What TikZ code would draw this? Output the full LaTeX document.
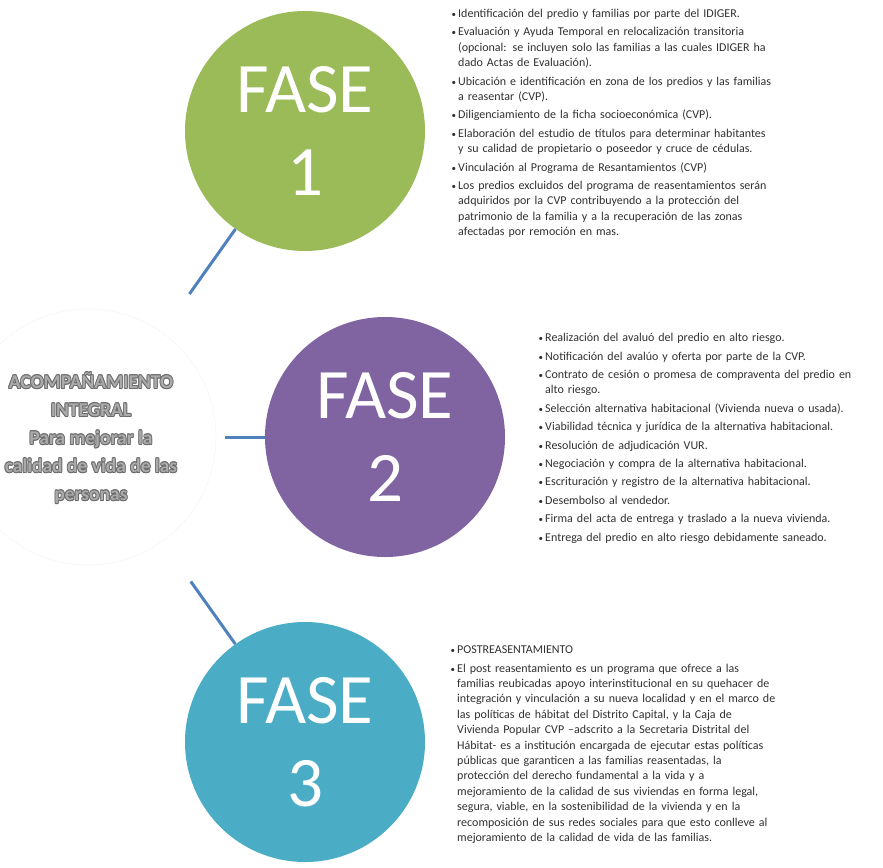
\documentclass[tikz,border=0pt]{standalone}
\usepackage{fontspec}
\setmainfont{Carlito}
\definecolor{verde}{HTML}{9BBB59}
\definecolor{morado}{HTML}{8064A2}
\definecolor{turquesa}{HTML}{4BACC6}
\definecolor{azul}{HTML}{4F81BD}
\definecolor{texto}{HTML}{303030}
% lista de puntos de cada fase
\newenvironment{puntos}{\begin{list}{\fontsize{9}{9}\selectfont\textbullet}{%
  \setlength{\leftmargin}{7pt}\setlength{\labelwidth}{5pt}\setlength{\labelsep}{2pt}%
  \setlength{\itemsep}{3pt}\setlength{\parsep}{0pt}\setlength{\topsep}{0pt}}}{\end{list}}
\begin{document}
\begin{tikzpicture}[x=1pt, y=-1pt, line join=round, line cap=round,
  fase/.style={circle, minimum size=240pt, inner sep=0pt, text=white, align=center,
    font=\fontsize{71}{83}\selectfont},
  lista/.style={anchor=north west, inner sep=0pt, text width=420pt, text=texto,
    font=\fontsize{12}{15.4}\selectfont},
  enlace/.style={draw=azul, line width=3pt, line cap=butt},
  centro/.style={align=center, font=\bfseries\fontsize{19.5}{28}\selectfont}]
\useasboundingbox (0,0) rectangle (883,867);
% circulo central
\node[circle, minimum size=256pt, draw=black!4, line width=0.6pt] (hub) at (88,437) {};
\foreach \dx/\dy [count=\i] in {0.8/0,-0.8/0,0/0.8,0/-0.8,0.6/0.6,-0.6/0.6,0.6/-0.6,-0.6/-0.6}
  \node[centro, text=black!58] (sombra\i) at (91+\dx,438+\dy)
    {ACOMPAÑAMIENTO\\INTEGRAL\\Para mejorar la\\calidad de vida de las\\personas};
\node[centro, text=black!33] (lema) at (91,438)
  {ACOMPAÑAMIENTO\\INTEGRAL\\Para mejorar la\\calidad de vida de las\\personas};
% fases
\node[fase, fill=verde] (f1) at (305,131) {FASE\\1};
\node[fase, fill=morado] (f2) at (385,437) {FASE\\2};
\node[fase, fill=turquesa] (f3) at (305,742) {FASE\\3};
\draw[enlace, shorten <=47pt] (hub) -- (f1);
\draw[enlace, shorten <=9pt] (hub) -- (f2);
\draw[enlace, shorten <=49pt] (hub) -- (f3);
% textos
\node[lista] (t1) at (451,2) {\begin{puntos}
  \item Identificación del predio y familias por parte del IDIGER.
  \item Evaluación y Ayuda Temporal en relocalización transitoria\\(opcional: se incluyen solo las familias a las cuales IDIGER ha\\dado Actas de Evaluación).
  \item Ubicación e identificación en zona de los predios y las familias\\a reasentar (CVP).
  \item Diligenciamiento de la ficha socioeconómica (CVP).
  \item Elaboración del estudio de títulos para determinar habitantes\\y su calidad de propietario o poseedor y cruce de cédulas.
  \item Vinculación al Programa de Resantamientos (CVP)
  \item Los predios excluidos del programa de reasentamientos serán\\adquiridos por la CVP contribuyendo a la protección del\\patrimonio de la familia y a la recuperación de las zonas\\afectadas por remoción en mas.
\end{puntos}};
\node[lista] (t2) at (538,326) {\begin{puntos}
  \item Realización del avaluó del predio en alto riesgo.
  \item Notificación del avalúo y oferta por parte de la CVP.
  \item Contrato de cesión o promesa de compraventa del predio en\\alto riesgo.
  \item Selección alternativa habitacional (Vivienda nueva o usada).
  \item Viabilidad técnica y jurídica de la alternativa habitacional.
  \item Resolución de adjudicación VUR.
  \item Negociación y compra de la alternativa habitacional.
  \item Escrituración y registro de la alternativa habitacional.
  \item Desembolso al vendedor.
  \item Firma del acta de entrega y traslado a la nueva vivienda.
  \item Entrega del predio en alto riesgo debidamente saneado.
\end{puntos}};
\node[lista] (t3) at (450,638) {\begin{puntos}
  \item POSTREASENTAMIENTO
  \item El post reasentamiento es un programa que ofrece a las\\familias reubicadas apoyo interinstitucional en su quehacer de\\integración y vinculación a su nueva localidad y en el marco de\\las políticas de hábitat del Distrito Capital, y la Caja de\\Vivienda Popular CVP –adscrito a la Secretaria Distrital del\\Hábitat- es a institución encargada de ejecutar estas políticas\\públicas que garanticen a las familias reasentadas, la\\protección del derecho fundamental a la vida y a\\mejoramiento de la calidad de sus viviendas en forma legal,\\segura, viable, en la sostenibilidad de la vivienda y en la\\recomposición de sus redes sociales para que esto conlleve al\\mejoramiento de la calidad de vida de las familias.
\end{puntos}};
\end{tikzpicture}
\end{document}
